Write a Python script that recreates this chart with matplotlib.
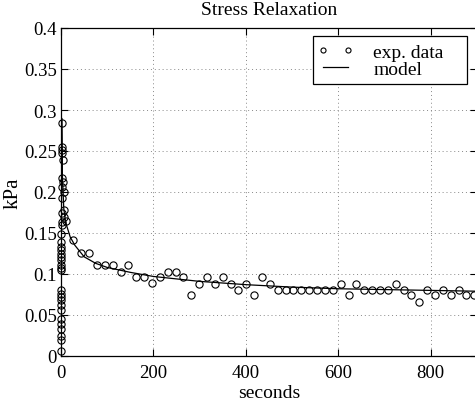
import matplotlib
matplotlib.use("Agg")
import matplotlib.pyplot as plt
from matplotlib.patches import Rectangle
from matplotlib.ticker import FuncFormatter

# loading ramp + fast drop (first few seconds)
ramp_t = [0.0, 0.05, 0.1, 0.15, 0.2, 0.25, 0.3, 0.35, 0.4, 0.45, 0.5, 0.55,
          0.6, 0.65, 0.7, 0.75, 0.8, 0.85, 0.9, 0.95, 1.0, 1.05, 1.1, 1.15,
          1.2, 1.25, 1.3, 1.35, 1.4, 1.45, 1.5,
          2.5, 3.5, 4.5, 5.5, 6.5, 7.5]
ramp_y = [0.006, 0.019, 0.025, 0.033, 0.039, 0.045, 0.056, 0.062, 0.068, 0.072,
          0.076, 0.080, 0.105, 0.107, 0.111, 0.117, 0.121, 0.125, 0.129, 0.133,
          0.139, 0.149, 0.160, 0.164, 0.174, 0.193, 0.206, 0.217, 0.248, 0.251,
          0.284,
          0.255, 0.239, 0.212, 0.200, 0.178, 0.170]

# relaxation samples
relax_t = [10, 27, 44, 61, 78, 95, 112, 129, 146, 163, 180, 197, 214, 231, 248,
           265, 282, 299, 316, 333, 350, 367, 384, 401, 418, 435, 452, 469, 486,
           503, 520, 537, 554, 571, 588, 605, 622, 639, 656, 673, 690, 707, 724,
           741, 758, 775, 792, 809, 826, 843, 860, 877, 894]
relax_y = [0.165, 0.141, 0.126, 0.126, 0.111, 0.111, 0.111, 0.103, 0.111, 0.096,
           0.096, 0.089, 0.096, 0.103, 0.103, 0.096, 0.074, 0.088, 0.096, 0.088,
           0.096, 0.088, 0.081, 0.088, 0.074, 0.096, 0.088, 0.081, 0.081, 0.081,
           0.081, 0.081, 0.081, 0.081, 0.081, 0.088, 0.074, 0.088, 0.081, 0.081,
           0.081, 0.081, 0.088, 0.081, 0.074, 0.066, 0.081, 0.074, 0.081, 0.074,
           0.081, 0.074, 0.074]

# model curve
model_t = [0, 1.5, 3, 6, 10, 20, 30, 50, 75, 100, 150, 200, 300, 400, 500,
           600, 700, 800, 900]
model_y = [0.0, 0.29, 0.22, 0.18, 0.163, 0.145, 0.135, 0.121, 0.113, 0.108,
           0.102, 0.097, 0.091, 0.087, 0.084, 0.082, 0.081, 0.080, 0.079]

plt.rcParams['font.family'] = ['Liberation Serif', 'DejaVu Serif']
plt.rcParams['font.size'] = 13.5

W, H = 475, 402
fig = plt.figure(figsize=(W / 100, H / 100), dpi=100)
ax = fig.add_axes([61 / W, (H - 357) / H, (477 - 61) / W, (357 - 29) / H])

t_data = ramp_t + relax_t
y_data = ramp_y + relax_y
ax.plot(t_data, y_data, 'o', mfc='none', mec='black', ms=5.2, mew=0.8,
        label='exp. data', clip_on=False, zorder=3)
ax.plot(model_t, model_y, '-', color='black', lw=0.9, label='model',
        zorder=3)

ax.set_xlim(0, 900)
ax.set_ylim(0, 0.4)
ax.set_xticks([0, 200, 400, 600, 800])
ax.set_yticks([0, 0.05, 0.1, 0.15, 0.2, 0.25, 0.3, 0.35, 0.4])
ax.yaxis.set_major_formatter(FuncFormatter(lambda v, p: '%g' % v))
ax.tick_params(direction='in', length=5, width=0.8, top=True, right=True,
               pad=3)
ax.tick_params(axis='x', pad=6)
ax.grid(True, linestyle=(0, (1, 3)), color='#888888', linewidth=0.7)
for s in ax.spines.values():
    s.set_linewidth(0.9)

ax.set_title('Stress Relaxation', pad=10, fontsize=14)
ax.set_xlabel('seconds', labelpad=2, fontsize=14)
ax.set_ylabel('kPa', labelpad=1, fontsize=15)

# legend box drawn separately (matlab style: extra room on the right)
box = Rectangle((313 / W, (H - 85) / H), (467 - 313) / W, 48 / H,
                transform=fig.transFigure, facecolor='white',
                edgecolor='black', linewidth=0.9, zorder=4, clip_on=False)
ax.add_patch(box)
leg = ax.legend(loc='upper left', bbox_to_anchor=(313 / W, (H - 40) / H),
                bbox_transform=fig.transFigure, numpoints=2, handlelength=1.9,
                frameon=False, fontsize=14, borderpad=0.2, labelspacing=0.0,
                handletextpad=1.0, borderaxespad=0, markerscale=0.7)
leg.set_zorder(6)

fig.savefig('out.png', dpi=100)
